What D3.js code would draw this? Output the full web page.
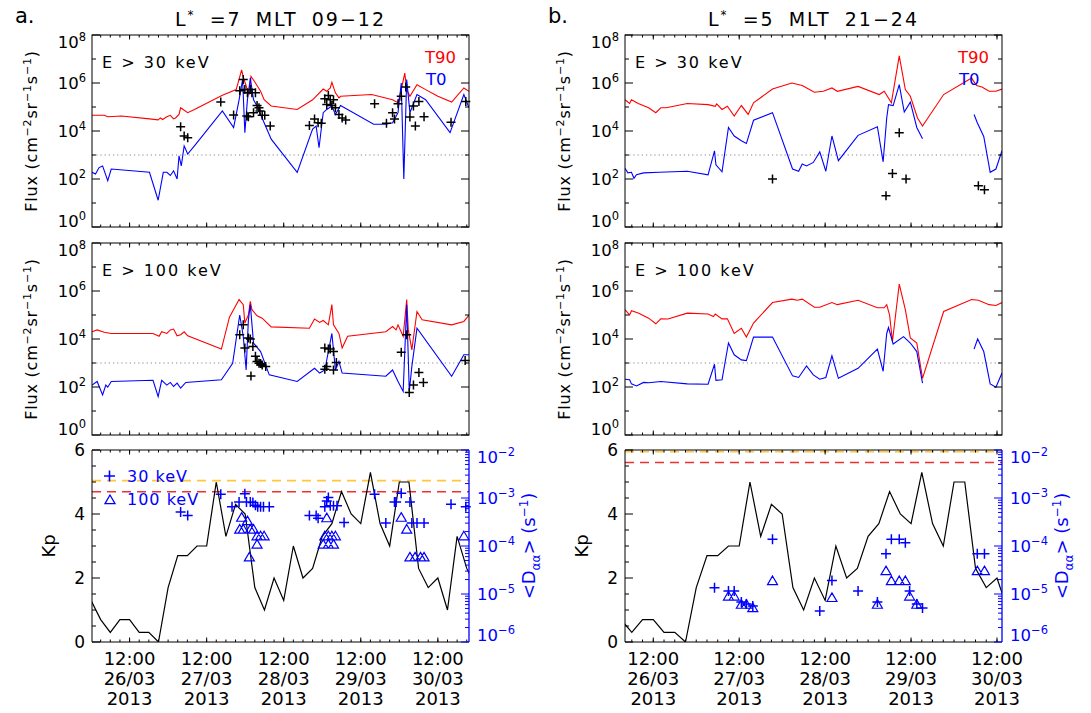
<!DOCTYPE html>
<html><head><meta charset="utf-8">
<script src="https://cdn.jsdelivr.net/npm/d3@7"></script>
<style>body{margin:0;background:#fff}svg text{font-family:"DejaVu Sans",sans-serif}</style>
</head><body><svg id="c" width="1091" height="713"></svg>
<script>
// ---------- DATA (time in hours after 2013-03-26 00:00 UT) ----------
const kpStartHour = 0, kpStepHours = 3;
const kpValues = [1.3,0.7,0.3,0.7,0.7,0.3,0.3,0.0, 1.7,2.7,2.7,3.0,3.0,5.0,3.3,4.3,
  4.0,1.7,1.0,2.0,1.3,3.0,2.0,2.3, 3.3,3.7,4.7,4.0,3.7,5.3,3.7,3.0, 5.0,5.0,2.3,1.7,2.0,1.0,3.3,2.3, 1.7];

// Panel a : L*=7 MLT 09-12
const a30T90 = [[0.3,4.5e4],[4.1,4.5e4],[5.2,3.9e4],[9.5,4.2e4],[18.2,3.2e4],[20.9,2.9e4],[21.6,3.5e4],[22.3,3.0e4],[23.6,3.9e4],[24.7,4.5e4],[25.7,3.2e4],[26.3,3.5e4],[27.4,4.9e4],[27.9,9.3e4],[30.1,5.8e4],[32.2,7.9e4],[40.9,3.1e5],[45.2,5.3e5],[46.9,3.5e6],[47.4,1.8e6],[48.5,6.2e5],[49.3,3.3e5],[49.8,1.9e6],[51.2,1.0e6],[52.8,4.5e5],[53.9,2.0e5],[56.1,1.1e5],[64.2,7.9e4],[69.0,2.0e5],[72.3,5.6e5],[73.4,4.5e5],[74.5,6.2e5],[75.0,1.07e6],[76.1,3.9e5],[77.2,2.4e5],[77.7,2.8e5],[87.4,3.3e5],[93.9,2.0e5],[95.6,1.5e5],[96.6,5.3e5],[97.7,2.6e6],[98.3,5.3e5],[99.3,2.8e5],[101.5,8.5e5],[104.2,5.3e5],[108.0,2.8e5],[112.3,1.6e5],[116.1,6.2e5],[117.7,4.5e5]];
const a30T0 = [[0.3,190],[1.4,160],[2.5,300],[3.6,350],[5.2,85],[6.3,260],[18.2,190],[20.9,13],[22.5,190],[23.6,190],[24.7,140],[25.7,220],[26.8,100],[27.4,930],[28.1,350],[29.0,2.4e3],[30.1,1.1e3],[32.2,2.4e3],[40.9,6.8e4],[44.4,1.4e4],[46.1,2.0e5],[47.2,1.4e6],[47.9,8.5e3],[48.7,2.0e5],[49.6,1.6e6],[50.6,2.0e5],[51.7,1.1e5],[53.9,2.2e4],[56.1,4.6e3],[64.2,190],[69.0,1.2e4],[70.1,1.6e4],[71.0,2.0e3],[72.3,5.8e4],[73.4,7.9e4],[75.0,1.1e5],[76.1,4.9e4],[77.7,1.15e5],[88.0,1.9e4],[91.8,1.9e4],[93.9,2.2e4],[95.6,5.8e4],[96.6,1.0e6],[97.4,100],[98.3,1.4e6],[99.3,5.8e4],[101.5,3.3e5],[104.2,2.0e5],[111.8,8.5e3],[116.1,3.3e5],[117.7,9.3e4]];
const a30Obs = [[27.9,1.5e4],[29.0,6.2e3],[30.1,5.2e3],[40.4,1.6e5],[44.4,4.6e4],[46.3,4.8e5],[47.4,1.4e6],[47.9,5.3e5],[48.5,4.2e4],[48.7,3.9e5],[49.0,3.9e4],[49.6,5.3e5],[50.1,3.9e5],[50.6,5.8e4],[51.2,3.9e5],[51.7,1.15e5],[52.3,9.3e4],[52.6,6.8e4],[53.3,4.5e4],[54.1,4.5e4],[55.8,1.6e4],[68.0,1.7e4],[69.6,3.2e4],[70.7,2.2e4],[71.7,2.1e4],[72.8,2.2e5],[73.4,1.26e5],[73.9,3.0e5],[74.5,2.0e5],[75.0,1.15e5],[75.5,2.0e5],[76.1,9.3e4],[77.2,4.9e4],[78.2,3.5e4],[79.3,2.9e4],[88.3,1.35e5],[92.0,2.1e4],[93.9,5.8e4],[94.5,3.2e4],[95.6,1.35e5],[96.6,2.8e5],[98.0,6.8e5],[99.3,3.8e4],[100.4,1.1e5],[101.0,1.6e4],[102.1,1.7e5],[103.7,3.9e4],[112.1,2.3e4],[116.7,1.7e5]];
const a100T90 = [[0.3,2.0e4],[1.9,2.4e4],[4.1,1.9e4],[6.3,1.7e4],[19.3,1.7e4],[21.2,1.3e4],[22.0,2.0e4],[23.6,1.7e4],[24.7,2.4e4],[25.7,2.6e4],[26.8,1.35e4],[27.9,1.5e4],[29.0,2.0e4],[30.1,1.35e4],[40.6,3.8e3],[43.1,8.1e4],[46.1,4.4e5],[47.4,2.7e5],[47.9,4.6e4],[49.0,1.0e5],[49.6,3.7e5],[50.1,1.66e5],[51.7,9.3e4],[53.3,7.4e4],[56.1,3.2e4],[68.0,2.8e4],[69.6,6.8e4],[71.2,4.9e4],[72.3,5.9e4],[73.9,3.9e4],[75.0,2.7e5],[75.5,3.9e4],[77.2,1.7e4],[78.2,4.2e3],[79.9,1.3e4],[91.8,2.0e4],[93.9,3.3e4],[95.0,2.4e4],[95.6,3.9e4],[97.2,1.3e4],[98.3,4.4e5],[98.8,2.4e4],[99.9,3.5e3],[101.5,1.4e5],[103.1,6.3e4],[112.3,3.9e4],[116.1,5.4e4],[117.7,1.0e5]];
const a100T0 = [[0.3,120],[1.9,170],[3.6,47],[4.6,120],[5.2,98],[6.3,170],[19.3,190],[20.9,40],[22.0,190],[23.6,120],[24.7,155],[25.7,105],[26.8,145],[27.9,89],[29.5,155],[40.6,200],[44.1,980],[46.3,1.0e5],[47.4,1.3e4],[48.3,510],[49.0,6.3e4],[49.6,2.7e5],[50.6,6.8e3],[52.8,3.0e3],[55.5,320],[64.2,170],[69.6,600],[71.2,380],[72.8,510],[75.0,1.7e4],[76.1,510],[77.2,1.15e3],[78.2,380],[91.8,280],[93.9,510],[95.6,170],[97.2,65],[98.3,2.7e5],[99.1,65],[99.9,710],[101.5,2.8e4],[112.3,280],[116.1,2.2e3],[117.7,2.2e3]];
const a100Obs = [[46.3,1.5e4],[47.4,3.9e4],[47.9,4.2e3],[49.0,1.1e4],[49.6,1.0e4],[49.8,290],[50.4,4.9e3],[51.2,1.9e3],[51.7,1.15e3],[52.3,980],[52.8,950],[53.3,830],[54.4,710],[72.8,4.2e3],[73.9,3.8e3],[74.5,3.8e3],[75.5,3.0e3],[72.8,550],[73.4,710],[75.5,510],[76.4,1.05e3],[96.6,2.8e3],[98.3,1.5e4],[99.1,59],[100.4,120],[102.1,400],[103.5,155],[116.5,1.26e3]];
const aD30 = [[27.9,5.1e-4],[30.1,4.3e-4],[40.4,1.2e-3],[43.9,6.6e-4],[46.1,8.3e-4],[47.9,1.23e-3],[48.4,8.3e-4],[49.6,8.3e-4],[50.4,8.1e-4],[51.2,7.1e-4],[51.9,6.6e-4],[52.8,6.6e-4],[53.7,6.6e-4],[55.5,6.6e-4],[68.0,4.3e-4],[70.1,4.3e-4],[70.7,3.8e-4],[72.8,6.6e-4],[73.4,8.7e-4],[73.9,1.02e-3],[74.5,6.9e-4],[75.5,6.9e-4],[76.6,6.9e-4],[78.8,3.1e-4],[88.3,1.2e-3],[91.8,3.0e-4],[94.5,8.3e-4],[95.0,8.3e-4],[96.6,1.26e-3],[99.3,8.3e-4],[99.9,3.0e-4],[101.5,3.0e-4],[103.7,3.0e-4],[112.1,7.4e-4],[116.7,6.6e-4]];
const aD100 = [[46.3,2.2e-4],[46.9,3.9e-4],[47.4,2.2e-4],[48.7,3.3e-4],[49.6,2.2e-4],[50.6,2.2e-4],[51.7,1.6e-4],[52.8,1.6e-4],[53.9,1.6e-4],[51.7,1.07e-4],[49.3,5.8e-5],[72.8,1.6e-4],[73.9,1.6e-4],[75.0,1.6e-4],[76.1,1.6e-4],[72.3,1.07e-4],[73.9,1.07e-4],[75.5,1.07e-4],[73.4,3.8e-4],[96.6,3.9e-4],[98.3,2.2e-4],[99.3,5.8e-5],[100.9,5.8e-5],[102.6,5.8e-5],[103.7,5.8e-5],[116.1,1.6e-4]];
const aLimits = [2.3e-3, 1.35e-3];   // 30 keV (yellow), 100 keV (red)

// Panel b : L*=5 MLT 21-24
const b30T90 = [[4.1,2.0e5],[5.4,1.4e5],[5.9,2.0e5],[7.8,1.4e5],[10.7,9.3e4],[12.7,5.8e4],[14.1,9.3e4],[15.6,9.3e4],[21.5,1.4e5],[27.3,1.26e5],[29.3,1.07e5],[29.7,1.35e5],[31.2,7.9e4],[32.7,1.07e5],[34.6,4.2e4],[36.6,1.15e5],[38.5,4.9e4],[40.0,1.5e5],[45.3,5.6e5],[50.7,1.0e6],[53.6,7.8e5],[57.0,4.1e5],[59.5,4.5e5],[61.9,6.2e5],[63.4,4.5e5],[69.2,7.2e5],[75.1,3.3e5],[76.5,4.5e5],[78.5,1.5e5],[80.7,1.35e7],[82.4,5.3e5],[83.8,2.8e5],[85.8,3.5e4],[87.2,1.6e4],[93.1,3.3e5],[100.9,1.6e6],[102.3,7.8e5],[103.8,6.8e5],[105.8,4.5e5],[107.7,4.5e5],[109.4,5.6e5]];
const b30T0 = [[4.1,280],[4.9,180],[5.9,190],[6.6,107],[7.3,150],[9.3,180],[13.7,190],[21.5,210],[27.3,150],[29.1,1.5e3],[29.5,390],[31.2,200],[33.0,1.4e4],[34.6,6.2e3],[36.6,3.9e3],[38.0,3.0e3],[40.0,2.8e4],[45.3,5.8e4],[50.9,260],[52.6,210],[53.6,420],[54.8,350],[56.7,490],[58.5,1.35e3],[60.2,210],[61.9,6.2e3],[63.7,580],[69.2,6.6e3],[74.6,1.5e4],[76.2,520],[77.2,3.5e4],[77.7,1.26e5],[79.0,1.15e5],[80.7,8.5e5],[82.1,6.2e4],[83.8,1.6e5],[85.6,1.4e4],[87.2,4.8e3],[94.0,null],[101.6,4.9e4],[102.5,2.2e4],[104.3,5.9e3],[106.1,190],[107.7,260],[109.4,1.5e3]];
const b30Obs = [[45.3,100],[77.0,20],[78.8,170],[80.7,8.5e3],[82.6,100],[102.8,52],[104.5,36]];
const b100T90 = [[4.1,1.66e5],[5.4,1.0e5],[5.9,1.5e5],[7.8,1.2e5],[10.7,7.4e4],[12.7,4.3e4],[14.1,6.9e4],[16.1,6.8e4],[21.5,1.2e5],[27.3,1.1e5],[28.8,8.7e4],[29.3,1.1e5],[31.2,6.9e4],[32.7,6.9e4],[34.6,1.7e4],[36.6,2.8e4],[38.0,1.2e4],[40.0,4.6e4],[45.3,3.3e5],[50.7,4.6e5],[52.2,4.1e5],[53.6,4.6e5],[57.0,2.1e5],[58.5,2.1e5],[61.9,3.3e5],[63.4,2.7e5],[69.2,4.1e5],[74.6,2.0e5],[76.5,2.0e5],[77.2,2.7e5],[78.0,1.0e5],[78.8,7.9e3],[80.7,1.95e6],[82.4,1.66e5],[83.8,1.1e4],[85.6,6.8e3],[87.2,230],[93.1,1.4e5],[100.9,4.4e5],[102.8,4.1e5],[105.8,2.7e5],[107.7,2.5e5],[109.4,3.3e5]];
const b100T0 = [[4.1,210],[5.4,200],[5.9,135],[7.3,110],[9.3,155],[10.7,150],[14.1,170],[21.5,135],[27.3,130],[29.1,890],[29.5,190],[31.2,200],[33.0,6.8e3],[34.6,2.2e3],[36.6,1.35e3],[38.0,1.26e3],[40.0,1.2e4],[45.3,1.2e4],[50.9,290],[52.6,250],[54.8,760],[56.7,320],[58.5,210],[60.2,250],[61.9,2.0e3],[63.7,230],[69.2,600],[74.6,3.8e3],[76.2,450],[77.2,1.7e4],[77.7,3.0e4],[79.0,6.2e3],[81.9,1.26e4],[83.8,6.8e3],[85.6,3.0e3],[87.2,145],[94.0,null],[101.6,3.8e3],[102.6,1.0e4],[104.3,3.0e3],[106.1,135],[107.7,98],[109.4,380]];
const b100Obs = [];
const bD30 = [[29.1,1.35e-5],[33.0,1.15e-5],[34.6,1.15e-5],[36.6,6.8e-6],[38.0,6.2e-6],[39.8,5.6e-6],[45.3,1.38e-4],[58.5,4.4e-6],[61.9,1.9e-5],[69.2,1.15e-5],[74.6,6.8e-6],[77.0,6.9e-5],[78.5,1.38e-4],[80.7,1.38e-4],[82.4,1.17e-4],[83.6,1.15e-5],[85.6,6.2e-6],[87.2,5.1e-6],[102.5,6.9e-5],[104.5,6.9e-5]];
const bD100 = [[33.0,8.9e-6],[34.6,8.9e-6],[36.6,6.0e-6],[38.0,6.0e-6],[39.8,5.1e-6],[45.3,1.86e-5],[61.9,8.3e-6],[74.6,6.0e-6],[77.0,3.0e-5],[78.5,1.86e-5],[80.7,1.86e-5],[82.4,1.86e-5],[83.6,8.9e-6],[85.6,6.0e-6],[102.5,3.0e-5],[104.5,3.0e-5]];
const bLimits = [9.2e-3, 5.5e-3];

const fluxTicks = [1,1e2,1e4,1e6,1e8], fluxMinor = [10,1e3,1e5,1e7];
const kpTicks = [0,2,4,6];
const dTicks = [1e-6,1e-5,1e-4,1e-3,1e-2];

// ---------- DRAWING ----------
const svg = d3.select("#c");
const T0 = Date.UTC(2013,2,26);
const hd = h => new Date(T0 + h*3600e3);
const RED="#ff0000", BLUE="#0000ff";
const rows = {r30:[35,227], r100:[243,435], rkp:[450,642]};
const panels = [
  {id:"a", letter:"a.", lx:15, x0:92, x1:469, dom:[0.3,117.7], tl:" =7 MLT 09−12",
   f30:[a30T90,a30T0,a30Obs], f100:[a100T90,a100T0,a100Obs], d30:aD30, d100:aD100, lim:aLimits, legend:true},
  {id:"b", letter:"b.", lx:548, x0:625, x1:1002, dom:[4.1,109.4], tl:" =5 MLT 21−24",
   f30:[b30T90,b30T0,b30Obs], f100:[b100T90,b100T0,b100Obs], d30:bD30, d100:bD100, lim:bLimits, legend:false}
];
const kpData = kpValues.map((v,i)=>[kpStartHour+i*kpStepHours, v]);
const plusP = (x,y,s)=>`M${x-s},${y}H${x+s}M${x},${y-s}V${y+s}`;
const triP = (x,y)=>`M${x},${y-5}L${x+5},${y+3.6}L${x-5},${y+3.6}Z`;

function pow10(g, x, y, exp, anchor, color){
  const t = g.append("text").attr("x",x).attr("y",y).attr("text-anchor",anchor).attr("fill",color||"#000").style("font-size","16.5px");
  t.append("tspan").text("10");
  t.append("tspan").attr("dy",-7).style("font-size","11.5px").text(exp);
  return t;
}

panels.forEach(P=>{
  const g = svg.append("g");
  const x = d3.scaleUtc().domain([hd(P.dom[0]),hd(P.dom[1])]).range([P.x0,P.x1]);
  const major = d3.utcDay.range(hd(-24),hd(130)).map(d=>d3.utcHour.offset(d,12)).filter(d=>d>=x.domain()[0]&&d<=x.domain()[1]);
  const minor = d3.utcHour.every(3).range(x.domain()[0],x.domain()[1]);
  const cx = (P.x0+P.x1)/2;
  g.append("text").attr("x",P.lx).attr("y",23).style("font-size","21px").text(P.letter);
  const tt = g.append("text").attr("x",cx).attr("y",26).attr("text-anchor","middle").style("font-size","19px").style("letter-spacing","2px").style("word-spacing","6px");
  tt.append("tspan").text("L"); tt.append("tspan").attr("dy",-7).style("font-size","12px").text("*");
  tt.append("tspan").attr("dy",7).text(P.tl);

  function xTicks(top,bottom){
    minor.forEach(d=>{const xx=x(d);
      g.append("line").attr("x1",xx).attr("x2",xx).attr("y1",bottom).attr("y2",bottom-2.5).attr("stroke","#000");
      g.append("line").attr("x1",xx).attr("x2",xx).attr("y1",top).attr("y2",top+2.5).attr("stroke","#000");});
    major.forEach(d=>{const xx=x(d);
      g.append("line").attr("x1",xx).attr("x2",xx).attr("y1",bottom).attr("y2",bottom-4.5).attr("stroke","#000");
      g.append("line").attr("x1",xx).attr("x2",xx).attr("y1",top).attr("y2",top+4.5).attr("stroke","#000");});
  }
  function clip(id,top,bottom){
    svg.append("clipPath").attr("id",id).append("rect").attr("x",P.x0).attr("y",top).attr("width",P.x1-P.x0).attr("height",bottom-top);
    return "url(#"+id+")";
  }
  const line = y => d3.line().defined(d=>d[1]!=null).x(d=>x(hd(d[0]))).y(d=>y(d[1]));

  function fluxPanel(top,bottom,data,elabel,showT,cid){
    const [red,blue,obs] = data;
    const y = d3.scaleLog().domain([1,1e8]).range([bottom,top]);
    const c = clip(cid,top,bottom);
    g.append("line").attr("x1",P.x0).attr("x2",P.x1).attr("y1",y(1e3)).attr("y2",y(1e3)).attr("stroke","#888").attr("stroke-dasharray","1.2,3");
    g.append("path").attr("d",line(y)(red)).attr("fill","none").attr("stroke",RED).attr("stroke-width",1.1).attr("clip-path",c);
    g.append("path").attr("d",line(y)(blue)).attr("fill","none").attr("stroke",BLUE).attr("stroke-width",1.1).attr("clip-path",c);
    if(obs.length) g.append("path").attr("d",obs.map(d=>plusP(x(hd(d[0])),y(d[1]),4.5)).join("")).attr("stroke","#000").attr("stroke-width",1.5).attr("fill","none");
    g.append("rect").attr("x",P.x0).attr("y",top).attr("width",P.x1-P.x0).attr("height",bottom-top).attr("fill","none").attr("stroke","#000");
    xTicks(top,bottom);
    fluxTicks.forEach(v=>{const yy=y(v);
      g.append("line").attr("x1",P.x0).attr("x2",P.x0+8).attr("y1",yy).attr("y2",yy).attr("stroke","#000");
      g.append("line").attr("x1",P.x1).attr("x2",P.x1-8).attr("y1",yy).attr("y2",yy).attr("stroke","#000");
      const cy = Math.max(top+7, Math.min(bottom-6.5, yy));
      pow10(g, P.x0-6, cy+6, String(Math.round(Math.log10(v))), "end");
    });
    fluxMinor.forEach(v=>{const yy=y(v);
      g.append("line").attr("x1",P.x0).attr("x2",P.x0+4).attr("y1",yy).attr("y2",yy).attr("stroke","#000");
      g.append("line").attr("x1",P.x1).attr("x2",P.x1-4).attr("y1",yy).attr("y2",yy).attr("stroke","#000");});
    g.append("text").attr("x",P.x0+10).attr("y",top+33).style("font-size","16px").style("letter-spacing","2px").text(elabel);
    if(showT){
      g.append("text").attr("x",P.x1-44).attr("y",top+27.5).attr("fill",RED).style("font-size","16.5px").text("T90");
      g.append("text").attr("x",P.x1-43).attr("y",top+50).attr("fill",BLUE).style("font-size","16.5px").text("T0");
    }
    const lab = g.append("text").attr("transform",`translate(${P.x0-55},${(top+bottom)/2}) rotate(-90)`).attr("text-anchor","middle").style("font-size","16px").style("letter-spacing","0.8px");
    lab.append("tspan").text("Flux (cm");
    lab.append("tspan").attr("dy",-6).style("font-size","11px").text("−2");
    lab.append("tspan").attr("dy",6).text("sr");
    lab.append("tspan").attr("dy",-6).style("font-size","11px").text("−1");
    lab.append("tspan").attr("dy",6).text("s");
    lab.append("tspan").attr("dy",-6).style("font-size","11px").text("−1");
    lab.append("tspan").attr("dy",6).text(")");
  }
  fluxPanel(rows.r30[0],rows.r30[1],P.f30,"E > 30 keV",true,"c30"+P.id);
  fluxPanel(rows.r100[0],rows.r100[1],P.f100,"E > 100 keV",false,"c100"+P.id);

  const [top,bottom] = rows.rkp;
  const ky = d3.scaleLinear().domain([0,6]).range([bottom,top]);
  const dy = d3.scaleLog().domain([1e-6,1e-2]).range([bottom,top]);
  const c = clip("ckp"+P.id,top,bottom);
  g.append("line").attr("x1",P.x0).attr("x2",P.x1).attr("y1",dy(P.lim[0])).attr("y2",dy(P.lim[0])).attr("stroke","#ffc83a").attr("stroke-width",1.6).attr("stroke-dasharray","9,6").attr("clip-path",c);
  g.append("line").attr("x1",P.x0).attr("x2",P.x1).attr("y1",dy(P.lim[1])).attr("y2",dy(P.lim[1])).attr("stroke","#f03030").attr("stroke-width",1.4).attr("stroke-dasharray","9,6").attr("clip-path",c);
  g.append("path").attr("d",line(ky)(kpData)).attr("fill","none").attr("stroke","#000").attr("stroke-width",1.2).attr("clip-path",c);
  g.append("path").attr("d",P.d30.map(d=>plusP(x(hd(d[0])),dy(d[1]),5)).join("")).attr("stroke",BLUE).attr("stroke-width",1.5).attr("fill","none");
  g.append("path").attr("d",P.d100.map(d=>triP(x(hd(d[0])),dy(d[1]))).join("")).attr("stroke",BLUE).attr("stroke-width",1.2).attr("fill","none");
  g.append("path").attr("d",`M${P.x1},${top}H${P.x0}V${bottom}H${P.x1}`).attr("fill","none").attr("stroke","#000");
  g.append("line").attr("x1",P.x1).attr("x2",P.x1).attr("y1",top).attr("y2",bottom).attr("stroke",BLUE).attr("stroke-width",1.3);
  xTicks(top,bottom);
  d3.range(0,6.01,0.5).forEach(v=>{const yy=ky(v), maj=kpTicks.includes(v);
    g.append("line").attr("x1",P.x0).attr("x2",P.x0+(maj?8:4)).attr("y1",yy).attr("y2",yy).attr("stroke","#000");});
  kpTicks.forEach(v=>g.append("text").attr("x",P.x0-7).attr("y",ky(v)+6).attr("text-anchor","end").style("font-size","17px").text(v));
  dTicks.forEach(v=>{const yy=dy(v);
    g.append("line").attr("x1",P.x1).attr("x2",P.x1-8).attr("y1",yy).attr("y2",yy).attr("stroke",BLUE);
    const cy = Math.max(top+7, Math.min(bottom-7, yy));
    pow10(g, P.x1+8, cy+6, "−"+Math.round(-Math.log10(v)), "start", BLUE);
    if(v<1e-2) d3.range(2,10).forEach(m=>{const y2=dy(v*m);
      g.append("line").attr("x1",P.x1).attr("x2",P.x1-4).attr("y1",y2).attr("y2",y2).attr("stroke",BLUE);});
  });
  g.append("text").attr("transform",`translate(${P.x0-37},${(top+bottom)/2}) rotate(-90)`).attr("text-anchor","middle").style("font-size","18px").text("Kp");
  const dl = g.append("text").attr("transform",`translate(${P.x1+66},${(top+bottom)/2}) rotate(-90)`).attr("text-anchor","middle").attr("fill",BLUE).style("font-size","18px");
  dl.append("tspan").text("<D");
  dl.append("tspan").attr("dy",5).style("font-size","12px").text("αα");
  dl.append("tspan").attr("dy",-5).text("> (s");
  dl.append("tspan").attr("dy",-7).style("font-size","12px").text("−1");
  dl.append("tspan").attr("dy",7).text(")");
  if(P.legend){
    g.append("path").attr("d",plusP(P.x0+17.5,476,5.5)).attr("stroke",BLUE).attr("stroke-width",1.6);
    g.append("text").attr("x",P.x0+35).attr("y",482).attr("fill",BLUE).style("font-size","16px").style("letter-spacing","1px").text("30 keV");
    g.append("path").attr("d",triP(P.x0+18,500)).attr("stroke",BLUE).attr("stroke-width",1.3).attr("fill","none");
    g.append("text").attr("x",P.x0+35).attr("y",505).attr("fill",BLUE).style("font-size","16px").style("letter-spacing","1px").text("100 keV");
  }
  const f1=d3.utcFormat("%H:%M"), f2=d3.utcFormat("%d/%m"), f3=d3.utcFormat("%Y");
  major.forEach(d=>{const xx=x(d);
    [[f1,665],[f2,685],[f3,705]].forEach(([f,yy])=>g.append("text").attr("x",xx).attr("y",yy).attr("text-anchor","middle").style("font-size","18px").text(f(d)));
  });
});
</script></body></html>
